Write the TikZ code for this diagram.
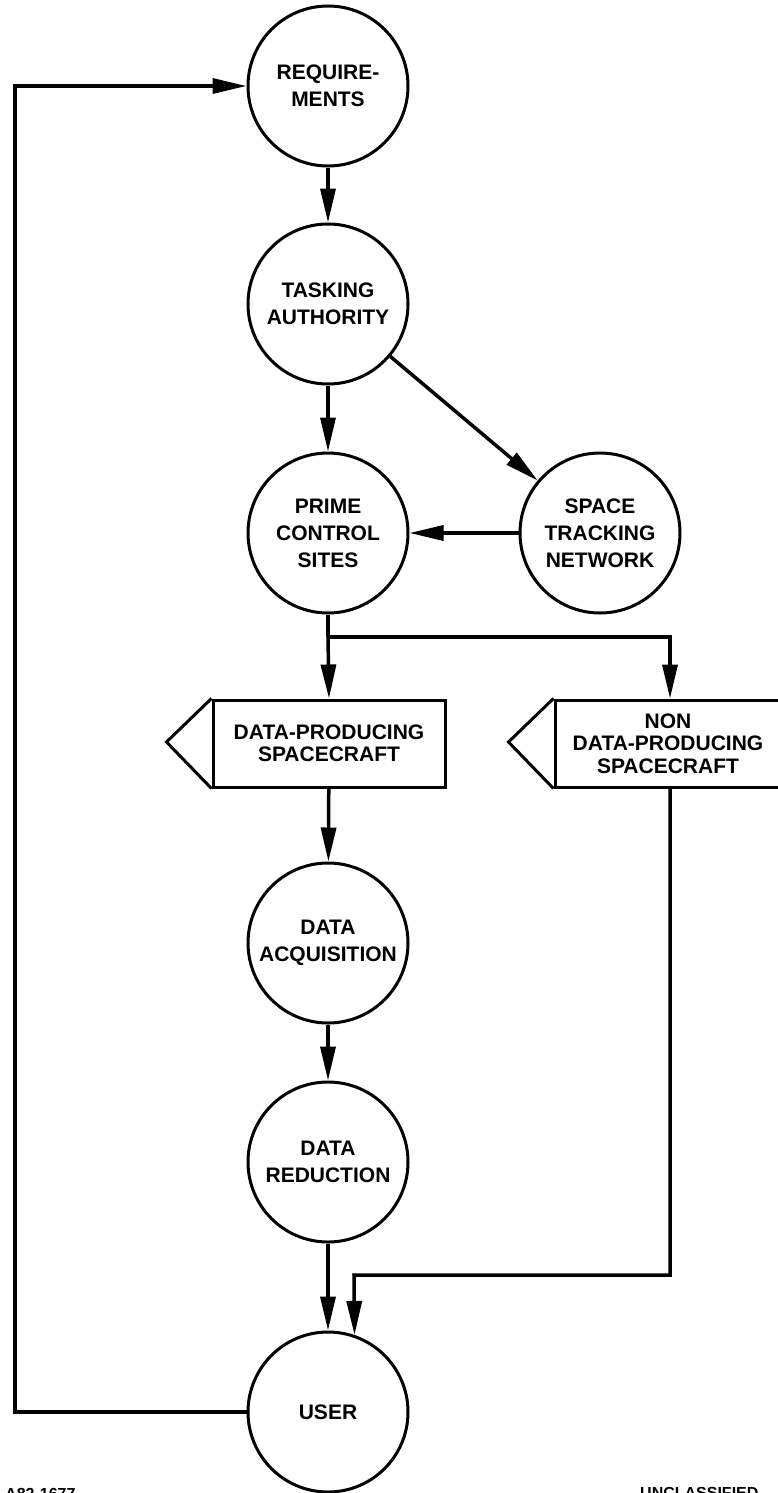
\documentclass[tikz,border=0pt]{standalone}
\usepackage{fontspec}
\setmainfont{Liberation Sans}
\usetikzlibrary{arrows.meta,calc}
\begin{document}
\begin{tikzpicture}[x=1pt,y=-1pt,
  circ/.style={circle, draw, line width=3pt, minimum size=160pt, inner sep=0pt, align=center,
     font=\fontsize{21}{27}\selectfont\bfseries},
  boxn/.style={rectangle, draw, line width=3pt, inner sep=0pt, align=center, minimum height=87pt,
     font=\fontsize{21}{22.5}\selectfont\bfseries},
  conn/.style={line width=3.5pt},
  arr/.style={line width=3.5pt, -{Triangle[length=34pt,width=15pt]}},
  lab/.style={font=\fontsize{16}{18}\selectfont\bfseries, inner sep=0pt}]
\useasboundingbox (0,0) rectangle (778,1493);
\clip (0,0) rectangle (778,1493);
\fill[white] (0,0) rectangle (778,1493);

\node[circ] (req) at (328,86) {REQUIRE-\\MENTS};
\node[circ] (task) at (328,304) {TASKING\\AUTHORITY};
\node[circ] (prime) at (328,533) {PRIME\\CONTROL\\SITES};
\node[circ] (space) at (600,533) {SPACE\\TRACKING\\NETWORK};
\node[boxn, minimum width=232pt] (dps) at (329,743.5) {DATA-PRODUCING\\SPACECRAFT};
\node[boxn, minimum width=226pt] (ndps) at (668,743.5) {NON\\DATA-PRODUCING\\SPACECRAFT};
\node[circ] (acq) at (328,943) {DATA\\ACQUISITION};
\node[circ] (red) at (328,1162) {DATA\\REDUCTION};
\node[circ] (user) at (328,1412) {USER};

% pointed left ends of the boxes
\draw[line width=3pt, line join=miter] (dps.north west) -- ++(-45,43.5) -- (dps.south west);
\draw[line width=3pt, line join=miter] (ndps.north west) -- ++(-45,43.5) -- (ndps.south west);

% coordinates for bends
\coordinate (lb) at (15,1412);
\coordinate (jn) at (328,637);
\coordinate (jr) at (670,637);
\coordinate (nb) at (670,1275);
\coordinate (ub) at (354,1275);

% connectors
\draw[arr, line join=miter] (user.west) -- (lb) |- (req);
\draw[arr] (req) -- (task);
\draw[arr] (task) -- (prime);
\draw[arr] (task) -- (space);
\draw[arr] (space) -- (prime);
\draw[conn] (prime) -- (jn);
\draw[arr] (jn) -- (dps.north);
\draw[arr, line join=miter] (jn) -- (jr) -- (jr |- ndps.north);
\draw[arr] (dps) -- (acq);
\draw[arr] (acq) -- (red);
\draw[arr] (red) -- (user);
\draw[arr, line join=miter] (nb |- ndps.south) -- (nb) -- (ub) -- (user.71);

% document labels at the bottom edge (cut off, as in the reference)
\node[lab, anchor=north west] (code) at (5,1488) {A82-1677};
\node[lab, anchor=north west] (cls) at (640,1487) {UNCLASSIFIED};
\end{tikzpicture}
\end{document}
